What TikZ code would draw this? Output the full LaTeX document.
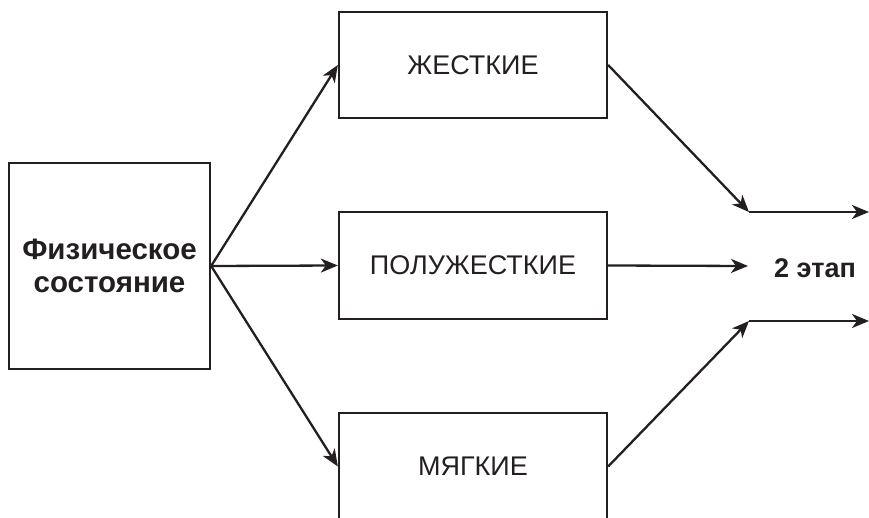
\documentclass[tikz,border=0pt]{standalone}
\usepackage{fontspec}
\setmainfont{Liberation Sans}
\usetikzlibrary{arrows.meta}
\definecolor{ink}{HTML}{231F20}
\begin{document}
\begin{tikzpicture}[x=1pt,y=-1pt,
  box/.style={draw=ink,line width=2.3pt,rectangle,inner sep=0pt,text=ink,font=\fontsize{27}{32}\selectfont},
  conn/.style={draw=ink,line width=2.3pt,-{Stealth[length=17pt,width=14pt,inset=5pt]}}]
\useasboundingbox (0,0) rectangle (869,518);
\clip (0,0) rectangle (869,518);
\node[box,minimum width=201pt,minimum height=206pt,align=center,font=\bfseries\fontsize{29.5}{33}\selectfont] (phys) at (109.5,266) {Физическое\\состояние};
\node[box,minimum width=268pt,minimum height=106pt] (hard) at (473,65) {ЖЕСТКИЕ};
\node[box,minimum width=268pt,minimum height=107pt] (semi) at (473,265.5) {ПОЛУЖЕСТКИЕ};
\node[box,minimum width=268pt,minimum height=107pt] (soft) at (473,466.5) {МЯГКИЕ};
\node[text=ink,font=\bfseries\fontsize{27}{30}\selectfont] (stage) at (815,268) {2 этап};
\coordinate (c1) at (749,212);
\coordinate (c1e) at (869,212);
\coordinate (c2) at (749,321);
\coordinate (c2e) at (869,321);
\coordinate (cm) at (748,266);
\draw[conn] (phys.east) -- (hard.west);
\draw[conn] (phys.east) -- (semi.west);
\draw[conn] (phys.east) -- (soft.west);
\draw[conn] (hard.east) -- (c1);
\draw[conn] (soft.east) -- (c2);
\draw[conn] (semi.east) -- (cm);
\draw[conn] (c1) -- (c1e);
\draw[conn] (c2) -- (c2e);
\end{tikzpicture}
\end{document}
